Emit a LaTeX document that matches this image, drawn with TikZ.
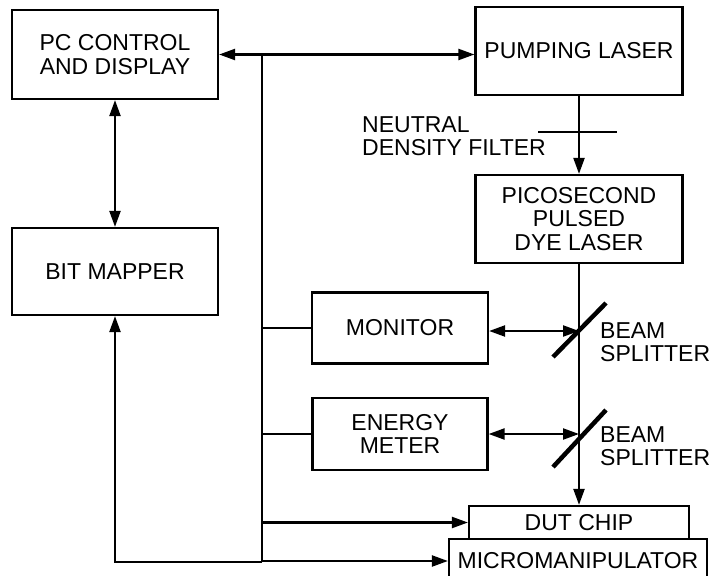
\documentclass[tikz,border=0pt]{standalone}
\usepackage{fontspec}
\setmainfont{Liberation Sans}
\usetikzlibrary{arrows.meta,calc}
\tikzset{box/.style={draw,line width=2.2pt,align=center,inner sep=0pt,font=\fontsize{23}{23.5}\selectfont},lbl/.style={align=left,inner sep=0pt,font=\fontsize{23}{23.5}\selectfont},wire/.style={line width=2.2pt},arrow/.style={wire,-{Triangle[length=16pt,width=11pt]}},twoway/.style={wire,{Triangle[length=16pt,width=11pt]}-{Triangle[length=16pt,width=11pt]}},mirror/.style={line width=4.5pt}}

\begin{document}
\begin{tikzpicture}[x=1pt,y=-1pt]
\useasboundingbox (0,0) rectangle (711,575);
\node[box,minimum width=206pt,minimum height=89pt] (pc) at (115,54.5) {PC CONTROL\\AND DISPLAY};
\node[box,minimum width=206pt,minimum height=87pt] (bm) at (115,271.5) {BIT MAPPER};
\node[box,minimum width=207pt,minimum height=88pt] (pump) at (579,51) {PUMPING LASER};
\node[box,minimum width=207pt,minimum height=88pt] (pic) at (579,219) {PICOSECOND\\PULSED\\DYE LASER};
\node[box,minimum width=176pt,minimum height=71pt] (mon) at (400,328) {MONITOR};
\node[box,minimum width=175pt,minimum height=72pt] (em) at (400,434) {ENERGY\\METER};
\node[box,minimum width=220pt,minimum height=33pt] (dut) at (579,522.5) {DUT CHIP};
\node[box,minimum width=258pt,minimum height=44pt] (micro) at (578,561) {MICROMANIPULATOR};
\node[lbl,anchor=west] (ndlbl) at (362,136) {NEUTRAL\\DENSITY FILTER};
\node[lbl,anchor=west] (bs1lbl) at (600,342) {BEAM\\SPLITTER};
\node[lbl,anchor=west] (bs2lbl) at (600,446) {BEAM\\SPLITTER};
\coordinate (bustop) at (262,54.5);
\coordinate (busbot) at (262,562);
\coordinate (nd) at (578,132);
\coordinate (bs1) at (579,331);
\coordinate (bs2) at (579,434);
% control side
\draw[twoway] (pc) -- (bm);
\draw[twoway] (pc.east) -- (pc.east -| pump.west);
\draw[wire] (bustop) -- (busbot);
\draw[arrow] (busbot) -| (bm.south);
\draw[wire] (mon.west -| bustop) -- (mon.west);
\draw[wire] (em.west -| bustop) -- (em.west);
\draw[arrow] (dut.west -| bustop) -- (dut.west);
\draw[arrow] (micro.west -| bustop) -- (micro.west);
% optical path
\draw[arrow] (pump) -- (pic);
\draw[wire] ($(nd)+(-40,0)$) -- ($(nd)+(39,0)$);
\draw[arrow] (pic.south) -- (dut.north);
\draw[mirror] ($(bs1)+(-26,26)$) -- ($(bs1)+(27,-28)$);
\draw[mirror] ($(bs2)+(-26,33)$) -- ($(bs2)+(27,-24)$);
\draw[twoway] (mon.east |- bs1) -- (bs1);
\draw[twoway] (em.east |- bs2) -- (bs2);
\end{tikzpicture}
\end{document}
